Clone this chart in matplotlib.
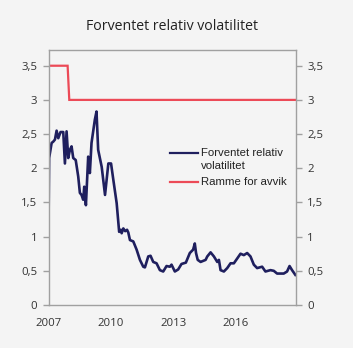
import matplotlib
matplotlib.use("Agg")
import matplotlib.pyplot as plt
import numpy as np

# Data (decimal years)
vol_dates = [2007.00, 2007.03, 2007.15, 2007.23, 2007.31, 2007.39, 2007.47, 2007.58, 2007.71,
             2007.79, 2007.87, 2007.95, 2008.03, 2008.11, 2008.19, 2008.31, 2008.43, 2008.51,
             2008.59, 2008.67, 2008.72, 2008.80, 2008.91, 2008.99, 2009.07, 2009.23, 2009.31,
             2009.39, 2009.56, 2009.72, 2009.88, 2010.01, 2010.12, 2010.28, 2010.40, 2010.48,
             2010.52, 2010.60, 2010.69, 2010.78, 2010.84, 2010.92, 2011.08, 2011.24, 2011.40,
             2011.56, 2011.64, 2011.80, 2011.91, 2012.04, 2012.20, 2012.36, 2012.52, 2012.68,
             2012.84, 2012.92, 2013.08, 2013.24, 2013.40, 2013.61, 2013.80, 2013.96, 2014.04,
             2014.10, 2014.18, 2014.32, 2014.56, 2014.64, 2014.80, 2014.96, 2015.12, 2015.20,
             2015.28, 2015.44, 2015.60, 2015.76, 2015.92, 2016.08, 2016.24, 2016.40, 2016.56,
             2016.72, 2016.88, 2017.04, 2017.28, 2017.44, 2017.68, 2017.84, 2018.00, 2018.32,
             2018.48, 2018.60, 2018.72, 2018.88]
vol_values = [1.12, 2.15, 2.37, 2.39, 2.42, 2.55, 2.44, 2.53, 2.53,
              2.07, 2.54, 2.15, 2.27, 2.32, 2.15, 2.12, 1.88, 1.64,
              1.61, 1.54, 1.73, 1.46, 2.17, 1.93, 2.37, 2.71, 2.83,
              2.27, 2.02, 1.61, 2.07, 2.07, 1.83, 1.49, 1.07, 1.10,
              1.05, 1.12, 1.08, 1.10, 1.06, 0.95, 0.93, 0.81, 0.66,
              0.56, 0.55, 0.71, 0.72, 0.63, 0.61, 0.51, 0.49, 0.57,
              0.56, 0.59, 0.49, 0.52, 0.60, 0.62, 0.76, 0.81, 0.90,
              0.76, 0.66, 0.63, 0.66, 0.71, 0.77, 0.71, 0.63, 0.66,
              0.51, 0.49, 0.54, 0.61, 0.61, 0.68, 0.75, 0.73, 0.76,
              0.71, 0.59, 0.54, 0.56, 0.49, 0.51, 0.50, 0.46, 0.46,
              0.49, 0.57, 0.51, 0.44]
limit_dates = [2007.00, 2007.92, 2008.00, 2018.91]
limit_values = [3.5, 3.5, 3.0, 3.0]

xticks = [2007, 2010, 2013, 2016]
xtick_labels = ["2007", "2010", "2013", "2016"]
yticks = [0, 0.5, 1, 1.5, 2, 2.5, 3, 3.5]
ytick_labels = ["0", "0,5", "1", "1,5", "2", "2,5", "3", "3,5"]

title = "Forventet relativ volatilitet"
label_vol = ["Forventet relativ", "volatilitet"]
label_limit = "Ramme for avvik"

navy = "#1f1f5e"
red = "#ec4a57"
bg = "#f4f4f4"
spine_c = "#a0a0a0"
text_c = "#333333"

fig = plt.figure(figsize=(3.53, 3.48), dpi=100, facecolor=bg)
ax = fig.add_axes([48.5/353, 43/348, 247.5/353, 255/348], facecolor=bg)

ax.plot(limit_dates, limit_values, color=red, lw=1.6, solid_joinstyle="miter")
ax.plot(vol_dates, vol_values, color=navy, lw=1.9)

ax.set_xlim(2007.0, 2018.91)
ax.set_ylim(0, 3.73)

ax.set_xticks(xticks)
ax.set_xticklabels(xtick_labels)
ax.set_yticks(yticks)
ax.set_yticklabels(ytick_labels)
ax.tick_params(axis="x", length=0, pad=9, labelsize=8.2, labelcolor=text_c)
ax.tick_params(axis="y", which="both", direction="out", length=4.5, width=1,
               color=spine_c, labelsize=8.2, labelcolor=text_c,
               left=True, right=True, labelleft=True, labelright=True, pad=3.5)
for lab in ax.get_xticklabels() + ax.get_yticklabels():
    lab.set_family("Open Sans")
for lab in ax.yaxis.get_ticklabels(which="major"):
    pass
# right tick labels
for t in ax.yaxis.get_major_ticks():
    t.label2.set_family("Open Sans")
    t.label2.set_fontsize(8.2)
    t.label2.set_color(text_c)

for s in ax.spines.values():
    s.set_color(spine_c)
    s.set_linewidth(1)

# Legend (drawn manually to match layout)
ax.plot([0.491, 0.604], [0.596, 0.596], transform=ax.transAxes, color=navy, lw=1.6)
ax.plot([0.491, 0.604], [0.482, 0.482], transform=ax.transAxes, color=red, lw=1.6)
ax.text(0.616, 0.596, label_vol[0], transform=ax.transAxes, va="center", ha="left",
        fontsize=8.2, family="Liberation Sans", color="#222222")
ax.text(0.616, 0.545, label_vol[1], transform=ax.transAxes, va="center", ha="left",
        fontsize=8.2, family="Liberation Sans", color="#222222")
ax.text(0.616, 0.482, label_limit, transform=ax.transAxes, va="center", ha="left",
        fontsize=8.2, family="Liberation Sans", color="#222222")

fig.text(172.5/353, 1 - 27/348, title, ha="center", va="center", fontsize=10.2,
         family="Open Sans", color="#222222")

fig.savefig("out.png", dpi=100, facecolor=bg)
